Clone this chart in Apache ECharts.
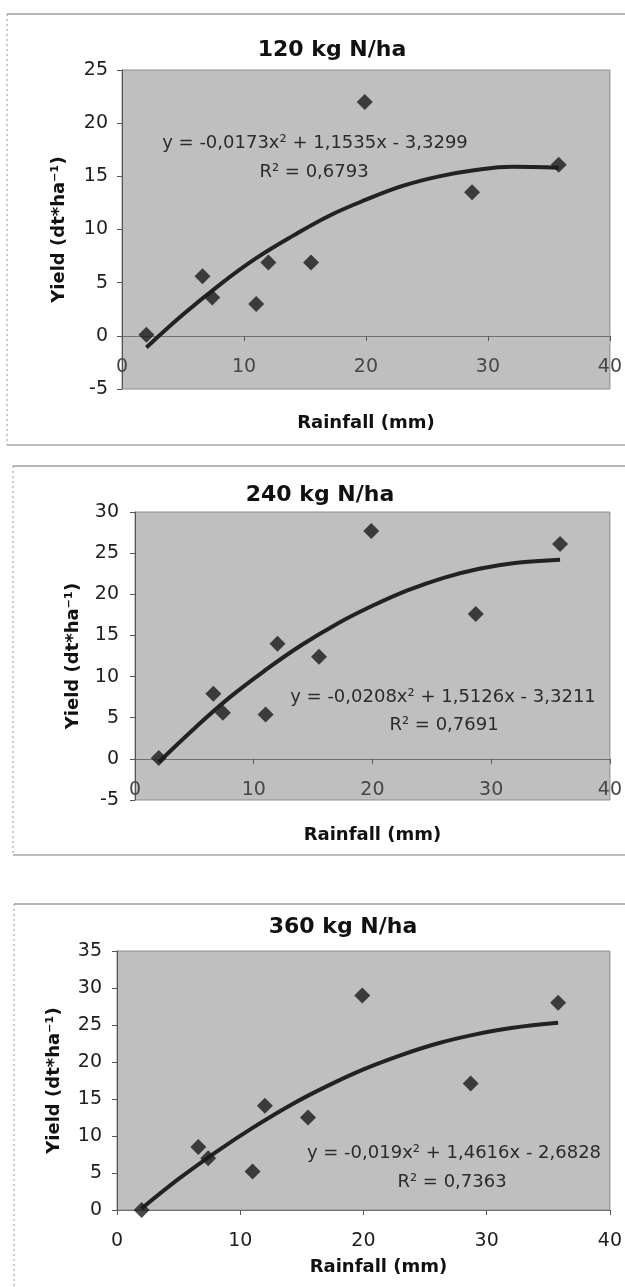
<!DOCTYPE html>
<html>
<head>
<meta charset="utf-8">
<script src="https://cdn.jsdelivr.net/npm/echarts@6/dist/echarts.min.js"></script>
<style>
html,body{margin:0;padding:0;background:#fff;}
#c{width:625px;height:1287px;}
</style>
</head>
<body>
<div id="c"></div>
<script>
// ---- data ----
const rainfall = [2, 6.6, 7.4, 11, 12, 15.5, 19.9, 28.7, 35.8];
const yield120 = [0.1, 5.6, 3.6, 3.0, 6.9, 6.9, 22.0, 13.5, 16.1];
const yield240 = [0.1, 7.9, 5.6, 5.4, 14.0, 12.4, 27.7, 17.6, 26.1];
const yield360 = [0.0, 8.5, 7.0, 5.2, 14.1, 12.5, 29.0, 17.1, 28.0];
// trend curves
const trendX   = [2, 5, 8, 11, 14, 17, 20, 23, 26, 29, 32, 35.8];
const trend120 = [-1.1, 2.0, 4.8, 7.3, 9.4, 11.3, 12.8, 14.1, 15.0, 15.6, 15.9, 15.8];
const trend240 = [-0.4, 3.7, 7.5, 10.8, 13.8, 16.4, 18.6, 20.5, 22.0, 23.1, 23.8, 24.2];
const trend360 = [0.2, 4.2, 7.8, 11.1, 14.1, 16.7, 19.0, 20.9, 22.5, 23.7, 24.6, 25.3];
const titles = ['120 kg N/ha', '240 kg N/ha', '360 kg N/ha'];
const equations = ['y = -0,0173x² + 1,1535x - 3,3299', 'y = -0,0208x² + 1,5126x - 3,3211', 'y = -0,019x² + 1,4616x - 2,6828'];
const r2Texts = ['R² = 0,6793', 'R² = 0,7691', 'R² = 0,7363'];
const yMin = [-5, -5, 0];
const yMax = [25, 30, 35];
const xTicks = [0, 40, 10];
const yInterval = 5;
const xName = 'Rainfall (mm)';
const yName = 'Yield (dt*ha⁻¹)';

// ---- layout ----
const FONT = 'DejaVu Sans';
const grids = [
  {left:122, top:70,  width:495, height:319},
  {left:135, top:512, width:480, height:288},
  {left:117, top:951, width:498, height:259}
];
const xNameGap = [78, 67, 48];
const xNamePad = [[0,0,0,0], [0,0,0,0], [0,0,0,30]];
const yNameGap = [54, 53, 54];
const yLabelMargin = [14, 16, 15];
const xLabelColor = ['#474747', '#474747', '#1e1e1e'];
const titlePos = [[332, 50], [320, 495], [343, 927]];
const eqPos = [[315, 143], [443, 697], [454, 1153]];
const r2Pos = [[314, 172], [444, 725], [452, 1182]];

const yields = [yield120, yield240, yield360];
const trends = [trend120, trend240, trend360];

// x axis crosses the y axis at value 0 (Excel style): shift the whole axis up to y = 0
const xOffset = grids.map((g, i) => -g.height * (0 - yMin[i]) / (yMax[i] - yMin[i]));

const option = {
  animation: false,
  textStyle: {fontFamily: FONT},
  grid: grids.map(g => Object.assign({show:true, backgroundColor:'#bfbfbf', borderColor:'#8c8c8c', borderWidth:1}, g)),
  xAxis: grids.map((g, i) => ({
    type:'value', gridIndex:i, min:xTicks[0], max:xTicks[1], interval:xTicks[2],
    offset: xOffset[i],
    name:xName, nameLocation:'middle', nameGap:xNameGap[i] - xOffset[i] * 0,
    nameTextStyle:{fontFamily:FONT, fontSize:18, fontWeight:'bold', color:'#111', padding:xNamePad[i]},
    axisLine:{show:true, onZero:false, lineStyle:{color:'#707070', width:1}},
    axisTick:{show:true, length:5, lineStyle:{color:'#555'}},
    axisLabel:{margin:22, fontFamily:FONT, fontSize:19, color:xLabelColor[i]},
    splitLine:{show:false}
  })),
  yAxis: grids.map((g, i) => ({
    type:'value', gridIndex:i, min:yMin[i], max:yMax[i], interval:yInterval,
    name:yName, nameLocation:'middle', nameGap:yNameGap[i], nameRotate:90,
    nameTextStyle:{fontFamily:FONT, fontSize:18, fontWeight:'bold', color:'#111'},
    axisLine:{show:true, onZero:false, lineStyle:{color:'#555', width:1}},
    axisTick:{show:true, length:5, lineStyle:{color:'#555'}},
    axisLabel:{margin:yLabelMargin[i], fontFamily:FONT, fontSize:19, color:'#1e1e1e'},
    splitLine:{show:false}
  })),
  series: [],
  graphic: []
};

for (let i = 0; i < 3; i++) {
  option.series.push({
    type:'line', xAxisIndex:i, yAxisIndex:i, smooth:0.4, showSymbol:false,
    lineStyle:{color:'#222', width:4}, z:2,
    data: trendX.map((x, k) => [x, trends[i][k]])
  });
  option.series.push({
    type:'scatter', xAxisIndex:i, yAxisIndex:i, symbol:'diamond', symbolSize:16,
    itemStyle:{color:'#1a1a1a'}, z:3,
    data: rainfall.map((x, k) => [x, yields[i][k]])
  });
}

// frames
const frames = [
  {x:7, top:14, bottom:445},
  {x:13, top:466, bottom:855},
  {x:14, top:904, bottom:null}
];
frames.forEach(f => {
  option.graphic.push({type:'line', shape:{x1:f.x, y1:f.top, x2:640, y2:f.top}, style:{stroke:'#6a6a6a', lineWidth:1.2}, z:-1});
  const yb = f.bottom === null ? 1300 : f.bottom;
  option.graphic.push({type:'line', shape:{x1:f.x, y1:f.top, x2:f.x, y2:yb}, style:{stroke:'#9a9a9a', lineWidth:1, lineDash:[2,3]}, z:-1});
  if (f.bottom !== null) {
    option.graphic.push({type:'line', shape:{x1:f.x, y1:f.bottom, x2:640, y2:f.bottom}, style:{stroke:'#7a7a7a', lineWidth:1}, z:-1});
  }
});

for (let i = 0; i < 3; i++) {
  option.graphic.push({type:'text', x:titlePos[i][0], y:titlePos[i][1], z:10,
    style:{text:titles[i], fontFamily:FONT, fontSize:22, fontWeight:'bold', fill:'#111', textAlign:'center', textVerticalAlign:'middle'}});
  option.graphic.push({type:'text', x:eqPos[i][0], y:eqPos[i][1], z:10,
    style:{text:equations[i], fontFamily:FONT, fontSize:18, fill:'#2b2b2b', textAlign:'center', textVerticalAlign:'middle'}});
  option.graphic.push({type:'text', x:r2Pos[i][0], y:r2Pos[i][1], z:10,
    style:{text:r2Texts[i], fontFamily:FONT, fontSize:18, fill:'#2b2b2b', textAlign:'center', textVerticalAlign:'middle'}});
}

const chart = echarts.init(document.getElementById('c'), null, {renderer:'canvas'});
chart.setOption(option);
</script>
</body>
</html>
